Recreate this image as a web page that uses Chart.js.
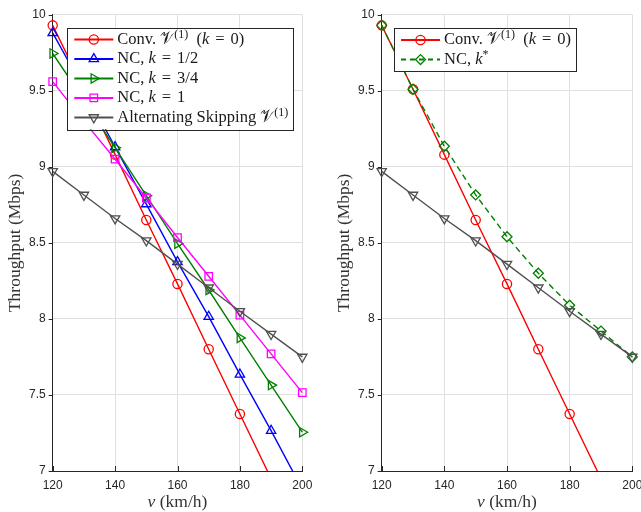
<!DOCTYPE html>
<html>
<head>
<meta charset="utf-8">
<script src="https://cdn.jsdelivr.net/npm/chart.js@4.4.1/dist/chart.umd.min.js"></script>
<style>
  html, body { margin: 0; padding: 0; background: #fff; }
  body { width: 641px; height: 512px; overflow: hidden; position: relative; }
  canvas { position: absolute; top: 0; }
  #left { left: 0; }
  #right { left: 329px; }
</style>
</head>
<body>
<canvas id="left" width="320" height="512"></canvas>
<canvas id="right" width="321" height="512"></canvas>
<script>
// speed (km/h)
const speeds = [120, 130, 140, 150, 160, 170, 180, 190, 200];

// throughput (Mbps) per scheme
const conv = [9.93, 9.51, 9.08, 8.65, 8.23, 7.80, 7.375, 6.95, 6.52];
const ncHalf = [9.88, 9.51, 9.13, 8.755, 8.375, 8.015, 7.635, 7.265, 6.88];
const ncThreeQuarter = [9.745, 9.44, 9.125, 8.81, 8.495, 8.19, 7.875, 7.565, 7.255];
const ncOne = [9.56, 9.30, 9.05, 8.795, 8.535, 8.28, 8.025, 7.77, 7.515];
const altSkip = [8.97, 8.815, 8.66, 8.515, 8.36, 8.205, 8.05, 7.90, 7.75];
const ncOpt = [9.93, 9.51, 9.135, 8.815, 8.54, 8.30, 8.09, 7.92, 7.75];

const xTicks = [120, 140, 160, 180, 200];
const yTicks = [7, 7.5, 8, 8.5, 9, 9.5, 10];

const GRID = '#e0e0e0';
const AXIS = '#262626';
const SERIF = '"Liberation Serif", "Times New Roman", serif';
const LEG_SIZE = 16.5;

function series(label, data, color, style, rotation, radius, dash) {
  return {
    label,
    data: speeds.map((v, i) => ({ x: v, y: data[i] })),
    borderColor: color,
    pointBorderColor: color,
    pointBackgroundColor: 'rgba(0,0,0,0)',
    borderWidth: 1.4,
    pointBorderWidth: 1.3,
    pointStyle: style,
    pointRotation: rotation,
    pointRadius: radius,
    borderDash: dash || [],
    tension: 0,
    clip: { left: 10, top: 10, right: 10, bottom: 0 }
  };
}

// rich text pieces: plain, italic (i), superscript (sup), relation sign (rel)
function segFont(ctx, s) {
  if (s.k === 'i') ctx.font = `italic ${LEG_SIZE}px ${SERIF}`;
  else if (s.k === 'sup') ctx.font = `12px ${SERIF}`;
  else ctx.font = `${LEG_SIZE}px ${SERIF}`;
}

function segWidth(ctx, s) {
  segFont(ctx, s);
  const w = ctx.measureText(s.t).width;
  return s.k === 'rel' ? w + 12 : w;
}

function drawRich(ctx, segs, x, y) {
  for (const s of segs) {
    segFont(ctx, s);
    const dy = s.k === 'sup' ? -5 : 0;
    const dx = s.k === 'rel' ? 6 : 0;
    ctx.fillText(s.t, x + dx, y + dy);
    x += segWidth(ctx, s);
  }
  return x;
}

function measureRich(ctx, segs) {
  return segs.reduce((w, s) => w + segWidth(ctx, s), 0);
}

const insideLegend = {
  id: 'insideLegend',
  afterDraw(chart, args, opts) {
    if (!opts.items) return;
    const ctx = chart.ctx;
    const area = chart.chartArea;
    const rowH = 19.5;
    const textW = Math.max(...opts.items.map(it => measureRich(ctx, it.text)));
    const w = 50 + textW + 5;
    const h = opts.items.length * rowH + 4;
    const left = opts.anchor === 'right' ? area.right - opts.dx - w : area.left + opts.dx;
    const top = area.top + opts.dy;
    ctx.save();
    ctx.fillStyle = '#fff';
    ctx.fillRect(left, top, w, h);
    ctx.strokeStyle = AXIS;
    ctx.lineWidth = 1;
    ctx.strokeRect(Math.round(left) + 0.5, Math.round(top) + 0.5, Math.round(w), Math.round(h));
    opts.items.forEach((it, i) => {
      const ds = chart.data.datasets[it.ds];
      const cy = top + 2 + rowH * (i + 0.5);
      ctx.strokeStyle = ds.borderColor;
      ctx.lineWidth = 2;
      ctx.setLineDash(ds.borderDash.length ? [5, 4] : []);
      ctx.beginPath();
      ctx.moveTo(left + 7, cy);
      ctx.lineTo(left + 46, cy);
      ctx.stroke();
      ctx.setLineDash([]);
      ctx.fillStyle = 'rgba(0,0,0,0)';
      ctx.lineWidth = 1.3;
      Chart.helpers.drawPoint(ctx, {
        pointStyle: ds.pointStyle,
        rotation: ds.pointRotation,
        radius: ds.pointRadius,
        borderWidth: 1.3
      }, left + 26.5, cy);
      ctx.fillStyle = '#1a1a1a';
      ctx.textBaseline = 'middle';
      ctx.textAlign = 'left';
      drawRich(ctx, it.text, left + 50, cy);
    });
    ctx.restore();
  }
};

// axis titles and tick marks
const axisExtras = {
  id: 'axisExtras',
  afterDraw(chart) {
    const ctx = chart.ctx;
    const area = chart.chartArea;
    const xs = chart.scales.x, ys = chart.scales.y;
    ctx.save();
    ctx.strokeStyle = AXIS;
    ctx.lineWidth = 1;
    ctx.beginPath();
    xTicks.forEach(v => {
      const px = Math.round(xs.getPixelForValue(v)) + 0.5;
      ctx.moveTo(px, area.bottom);
      ctx.lineTo(px, area.bottom - 5);
    });
    yTicks.forEach(v => {
      const py = Math.round(ys.getPixelForValue(v)) + 0.5;
      ctx.moveTo(area.left, py);
      ctx.lineTo(area.left - 4, py);
    });
    ctx.stroke();

    ctx.fillStyle = '#333';
    ctx.textBaseline = 'middle';
    // x title
    ctx.font = `italic 17.5px ${SERIF}`;
    const vW = ctx.measureText('v').width;
    ctx.font = `17.5px ${SERIF}`;
    const restW = ctx.measureText(' (km/h)').width;
    const x0 = (area.left + area.right) / 2 - (vW + restW) / 2;
    ctx.textAlign = 'left';
    ctx.font = `italic 17.5px ${SERIF}`;
    ctx.fillText('v', x0, 502.5);
    ctx.font = `17.5px ${SERIF}`;
    ctx.fillText(' (km/h)', x0 + vW, 502.5);
    // y title
    ctx.translate(area.left - 37, (area.top + area.bottom) / 2);
    ctx.rotate(-Math.PI / 2);
    ctx.textAlign = 'center';
    ctx.fillText('Throughput (Mbps)', 0, 0);
    ctx.restore();
  }
};

Chart.register(insideLegend, axisExtras);

function makeOptions(legendOpts) {
  const tickFont = { family: '"Liberation Sans", Arial, sans-serif', size: 12 };
  return {
    responsive: false,
    animation: false,
    events: [],
    layout: { padding: { left: 0, top: 14.7, right: 17.7, bottom: 0 } },
    scales: {
      x: {
        type: 'linear', min: 120, max: 200,
        afterBuildTicks: s => { s.ticks = xTicks.map(v => ({ value: v })); },
        afterFit: s => { s.height = 41; },
        grid: { color: GRID, drawTicks: false },
        border: { display: true, color: AXIS, width: 1 },
        ticks: { padding: 7, color: AXIS, font: tickFont, maxRotation: 0 }
      },
      y: {
        type: 'linear', min: 7, max: 10,
        afterBuildTicks: s => { s.ticks = yTicks.map(v => ({ value: v })); },
        afterFit: s => { s.width = 52.7; },
        grid: { color: GRID, drawTicks: false },
        border: { display: true, color: AXIS, width: 1 },
        ticks: { padding: 7, color: AXIS, font: tickFont, callback: v => String(v) }
      }
    },
    plugins: {
      legend: { display: false },
      tooltip: { enabled: false },
      insideLegend: legendOpts
    }
  };
}

const V = '\u{1D4B1}';
const convText = [
  { t: 'Conv. ' }, { t: V }, { t: '(1)', k: 'sup' }, { t: '  (' },
  { t: 'k', k: 'i' }, { t: '=', k: 'rel' }, { t: '0)' }
];

const leftSets = [
  series('Conv', conv, '#ff0000', 'circle', 0, 4.6),
  series('NC 1/2', ncHalf, '#0000ff', 'triangle', 0, 5.4),
  series('NC 3/4', ncThreeQuarter, '#008000', 'triangle', 90, 5.4),
  series('NC 1', ncOne, '#ff00ff', 'rect', 0, 5.3),
  series('Alt', altSkip, '#505050', 'triangle', 180, 5.4)
];
leftSets.forEach((d, i) => { d.order = leftSets.length - 1 - i; });

new Chart(document.getElementById('left'), {
  type: 'line',
  data: { datasets: leftSets },
  options: makeOptions({
    anchor: 'right', dx: 9, dy: 13,
    items: [
      { ds: 0, text: convText },
      { ds: 1, text: [{ t: 'NC, ' }, { t: 'k', k: 'i' }, { t: '=', k: 'rel' }, { t: '1/2' }] },
      { ds: 2, text: [{ t: 'NC, ' }, { t: 'k', k: 'i' }, { t: '=', k: 'rel' }, { t: '3/4' }] },
      { ds: 3, text: [{ t: 'NC, ' }, { t: 'k', k: 'i' }, { t: '=', k: 'rel' }, { t: '1' }] },
      { ds: 4, text: [{ t: 'Alternating Skipping ' }, { t: V }, { t: '(1)', k: 'sup' }] }
    ]
  })
});

const rightSets = [
  series('Conv', conv, '#ff0000', 'circle', 0, 4.6),
  series('NC k*', ncOpt, '#008000', 'rectRot', 0, 5, [6, 4]),
  series('Alt', altSkip, '#505050', 'triangle', 180, 5.4)
];
rightSets.forEach((d, i) => { d.order = rightSets.length - 1 - i; });

new Chart(document.getElementById('right'), {
  type: 'line',
  data: { datasets: rightSets },
  options: makeOptions({
    anchor: 'left', dx: 12.3, dy: 13.6,
    items: [
      { ds: 0, text: convText },
      { ds: 1, text: [{ t: 'NC, ' }, { t: 'k', k: 'i' }, { t: '*', k: 'sup' }] }
    ]
  })
});
</script>
</body>
</html>
